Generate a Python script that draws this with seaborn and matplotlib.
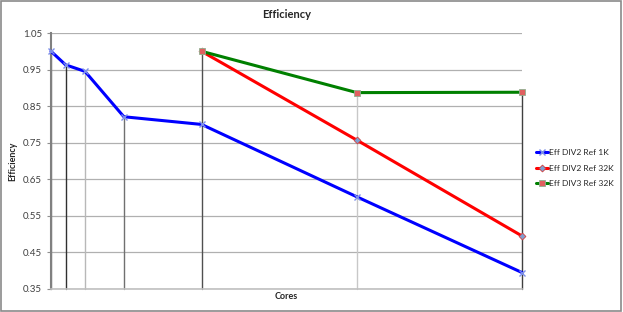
import numpy as np
import pandas as pd
import matplotlib as mpl
import matplotlib.pyplot as plt
import seaborn as sns

#%% Data

cores = [0.5, 2, 4, 8, 16, 32, 49]
eff_div2_1k = [1.0, 0.963, 0.945, 0.821, 0.80, 0.602, 0.395]

cores_32k = [16, 32, 49]
eff_div2_32k = [1.0, 0.757, 0.495]
eff_div3_32k = [1.0, 0.887, 0.888]

yticks = [0.35, 0.45, 0.55, 0.65, 0.75, 0.85, 0.95, 1.05]

#%% Style

sns.set_style('white')
plt.rcParams['font.family'] = ['Lato', 'DejaVu Sans']

fig = plt.figure(figsize=(6.23, 3.12), dpi=100)
ax = fig.add_axes([51/623, 1 - 289/312, (522 - 51)/623, (289 - 33)/312])

#%% Drop lines from each point down to the axis

tops = []
for c, v in zip(cores, eff_div2_1k):
    vals = [v]
    for cc, a, b in zip(cores_32k, eff_div2_32k, eff_div3_32k):
        if cc == c:
            vals += [a, b]
    tops.append(max(vals))

drop_colors = ['#7a7a7a', '#303030', '#b8b8b8', '#707070', '#505050', '#c8c8c8', '#404040']
for c, t, col in zip(cores, tops, drop_colors):
    ax.plot([c, c], [0.35, t], color=col, lw=1.0, zorder=1, clip_on=False)

#%% Series

sns.lineplot(x=cores, y=eff_div2_1k, ax=ax, color='#0000ff', lw=2.2,
             marker='x', markersize=5, markeredgecolor='#7d8fe8', mew=1.0,
             label='Eff DIV2 Ref 1K', zorder=3, clip_on=False)
sns.lineplot(x=cores_32k, y=eff_div2_32k, ax=ax, color='#ff0000', lw=2.2,
             marker='D', markersize=3.5, markerfacecolor='#7f9fd0', markeredgecolor='#d04040', mew=0.6,
             label='Eff DIV2 Ref 32K', zorder=3, clip_on=False)
sns.lineplot(x=cores_32k, y=eff_div3_32k, ax=ax, color='#008000', lw=2.2,
             marker='s', markersize=5, markerfacecolor='#e06060', markeredgecolor='#90b090', mew=0.6,
             label='Eff DIV3 Ref 32K', zorder=4, clip_on=False)

#%% Axes

ax.set_xlim(cores[0], cores[-1])
ax.set_ylim(0.35, 1.05)
ax.set_yticks(yticks)
ax.set_yticklabels(['{:.2f}'.format(y) for y in yticks])
ax.set_xticks([])
ax.yaxis.grid(True, color='#b0b0b0', lw=0.9)
ax.tick_params(axis='y', labelsize=7, labelcolor='#404040', color='#909090',
               length=3, width=0.8, left=True, direction='out')
for s in ['top', 'right']:
    ax.spines[s].set_visible(False)
ax.spines['left'].set_color('#808080')
ax.spines['left'].set_linewidth(1.5)
ax.spines['bottom'].set_color('#c0c0c0')
ax.spines['bottom'].set_linewidth(1.2)

ax.set_title('Efficiency', fontsize=8, fontweight='bold', pad=11)
ax.set_xlabel('Cores', fontsize=6.5, fontweight='bold', labelpad=2)
ax.set_ylabel('Efficiency', fontsize=6.5, fontweight='bold', labelpad=4)

handles, labels = ax.get_legend_handles_labels()
ax.legend_.remove()
fig.legend(handles, labels, loc='center left', bbox_to_anchor=(533/623, 1 - 168/312),
           frameon=False, fontsize=6.1, handlelength=1.4, handletextpad=0.05,
           labelspacing=1.05, borderaxespad=0)

# outer chart border
fig.patches.append(mpl.patches.Rectangle((0.002, 0.003), 0.995, 0.993, transform=fig.transFigure,
                                         fill=False, edgecolor='#8a8a8a', lw=1.2))

fig.savefig('out.png', dpi=100)
